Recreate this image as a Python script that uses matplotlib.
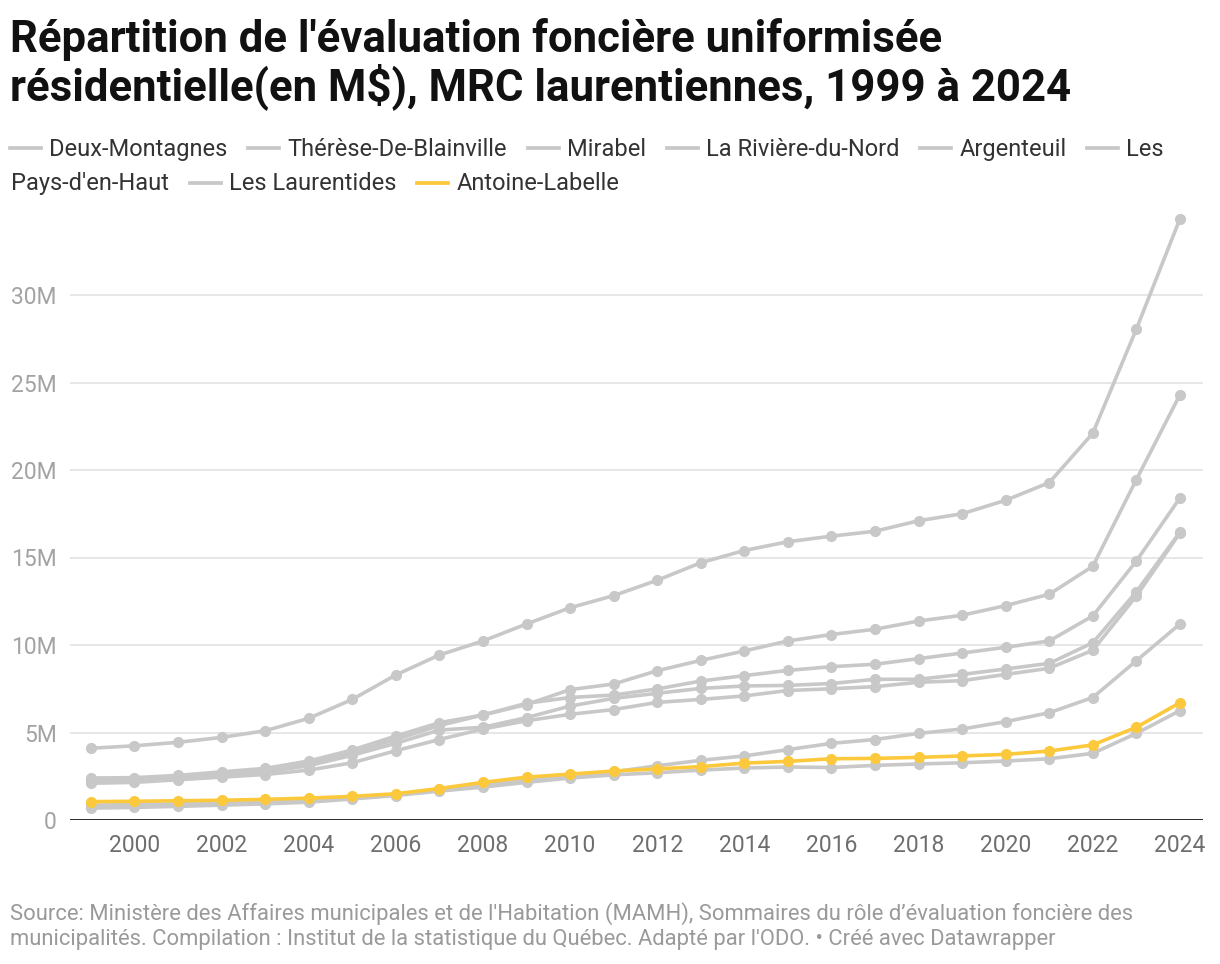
import numpy as np
import matplotlib
matplotlib.use("Agg")
import matplotlib.pyplot as plt
from matplotlib.lines import Line2D

plt.rcParams['font.family'] = ['Roboto', 'DejaVu Sans']

years = list(range(1999, 2025))

therese = [4.10, 4.24, 4.44, 4.72, 5.10, 5.81, 6.89, 8.29, 9.43, 10.23, 11.20, 12.13, 12.82, 13.70,
           14.70, 15.40, 15.90, 16.22, 16.50, 17.10, 17.50, 18.27, 19.28, 22.10, 28.05, 34.35]
laurentides = [2.40, 2.42, 2.55, 2.75, 2.95, 3.37, 4.00, 4.80, 5.56, 6.00, 6.60, 7.45, 7.77, 8.53,
               9.12, 9.66, 10.23, 10.60, 10.90, 11.37, 11.70, 12.25, 12.90, 14.50, 19.45, 24.30]
pays_haut = [2.30, 2.35, 2.48, 2.68, 2.88, 3.25, 3.85, 4.60, 5.40, 6.00, 6.67, 7.00, 7.14, 7.49,
             7.94, 8.25, 8.55, 8.76, 8.90, 9.22, 9.54, 9.87, 10.23, 11.66, 14.80, 18.40]
riviere_nord = [2.20, 2.25, 2.38, 2.58, 2.75, 3.10, 3.70, 4.38, 5.14, 5.30, 5.85, 6.51, 6.95, 7.24,
                7.52, 7.66, 7.69, 7.80, 8.04, 8.04, 8.32, 8.63, 8.95, 10.13, 13.04, 16.45]
mirabel = [2.10, 2.15, 2.30, 2.45, 2.60, 2.85, 3.27, 3.96, 4.60, 5.20, 5.67, 6.04, 6.31, 6.72,
           6.89, 7.09, 7.40, 7.50, 7.62, 7.87, 7.96, 8.32, 8.67, 9.70, 12.80, 16.40]
deux_montagnes = [0.85, 0.88, 0.92, 0.97, 1.02, 1.10, 1.25, 1.45, 1.75, 2.00, 2.25, 2.55, 2.75, 3.10,
                  3.41, 3.66, 4.02, 4.38, 4.60, 4.95, 5.20, 5.62, 6.13, 7.00, 9.10, 11.20]
argenteuil = [0.68, 0.72, 0.78, 0.85, 0.92, 1.02, 1.20, 1.40, 1.65, 1.88, 2.15, 2.40, 2.58, 2.70,
              2.85, 2.97, 3.03, 3.00, 3.12, 3.20, 3.27, 3.37, 3.50, 3.81, 4.95, 6.25]
antoine_labelle = [1.05, 1.07, 1.10, 1.13, 1.18, 1.25, 1.35, 1.50, 1.80, 2.15, 2.45, 2.62, 2.80, 2.92,
                   3.05, 3.25, 3.35, 3.50, 3.52, 3.58, 3.66, 3.75, 3.94, 4.29, 5.30, 6.70]

series = {
    "Deux-Montagnes": deux_montagnes,
    "Thérèse-De-Blainville": therese,
    "Mirabel": mirabel,
    "La Rivière-du-Nord": riviere_nord,
    "Argenteuil": argenteuil,
    "Les Pays-d'en-Haut": pays_haut,
    "Les Laurentides": laurentides,
    "Antoine-Labelle": antoine_labelle,
}
highlight = "Antoine-Labelle"

GREY = "#c8c8c8"
YELLOW = "#fcc93c"

W, H = 1220, 964
fig = plt.figure(figsize=(W / 100, H / 100), dpi=100)
ax = fig.add_axes([70 / W, 1 - 820 / H, (1203 - 70) / W, (820 - 207.5) / H])

for name, vals in series.items():
    if name == highlight:
        continue
    ax.plot(years, vals, color=GREY, lw=2.6, marker="o", ms=7, zorder=3)
ax.plot(years, series[highlight], color=YELLOW, lw=2.6, marker="o", ms=7, zorder=4)

ax.set_xlim(1998.52, 2024.53)
ax.set_ylim(0, 35)
ax.set_yticks([0, 5, 10, 15, 20, 25, 30])
ax.set_yticklabels(["0", "5M", "10M", "15M", "20M", "25M", "30M"])
ax.set_xticks(list(range(2000, 2025, 2)))
ax.grid(axis="y", color="#e3e3e3", lw=1.2, zorder=0)
ax.axhline(0, color="#1a1a1a", lw=2, zorder=5)
for s in ax.spines.values():
    s.set_visible(False)
ax.tick_params(axis="y", length=0, pad=9.4, labelsize=16.5, labelcolor="#a3a3a3")
ax.tick_params(axis="x", length=0, pad=10, labelsize=16.5, labelcolor="#6e6e6e")

# title, one text per line so the baselines sit where they should
title_lines = ["Répartition de l'évaluation foncière uniformisée",
               "résidentielle(en M$), MRC laurentiennes, 1999 à 2024"]
for i, line in enumerate(title_lines):
    fig.text(10 / W, 1 - (52 + 48 * i) / H, line, fontsize=31.5, fontweight="bold",
             color="#111111", va="baseline", ha="left")

# legend, laid out like a wrapping row of entries
fig.canvas.draw()
renderer = fig.canvas.get_renderer()
leg_items = [("Deux-Montagnes", GREY), ("Thérèse-De-Blainville", GREY), ("Mirabel", GREY),
             ("La Rivière-du-Nord", GREY), ("Argenteuil", GREY), ("Les\nPays-d'en-Haut", GREY),
             ("Les Laurentides", GREY), ("Antoine-Labelle", YELLOW)]
x = 10
row_line = [148, 182.5]
row_base = [156, 190]
row = 0
for label, col in leg_items:
    parts = label.split("\n")
    y = row_line[row]
    fig.add_artist(Line2D([x / W, (x + 31) / W], [1 - y / H, 1 - y / H], color=col, lw=2.7,
                          transform=fig.transFigure))
    tx = x + 39
    for i, part in enumerate(parts):
        if i > 0:
            row += 1
            tx = 11
        t = fig.text(tx / W, 1 - row_base[row] / H, part, fontsize=17, color="#333333",
                     va="baseline", ha="left")
        wpx = t.get_window_extent(renderer).width
    x = tx + wpx + 21

source_lines = ["Source: Ministère des Affaires municipales et de l'Habitation (MAMH), Sommaires du rôle d’évaluation foncière des",
                "municipalités. Compilation : Institut de la statistique du Québec. Adapté par l'ODO. • Créé avec Datawrapper"]
for i, line in enumerate(source_lines):
    fig.text(10 / W, 1 - (920 + 25 * i) / H, line, fontsize=15.8, color="#9a9a9a",
             va="baseline", ha="left")

fig.savefig("out.png", dpi=100)
